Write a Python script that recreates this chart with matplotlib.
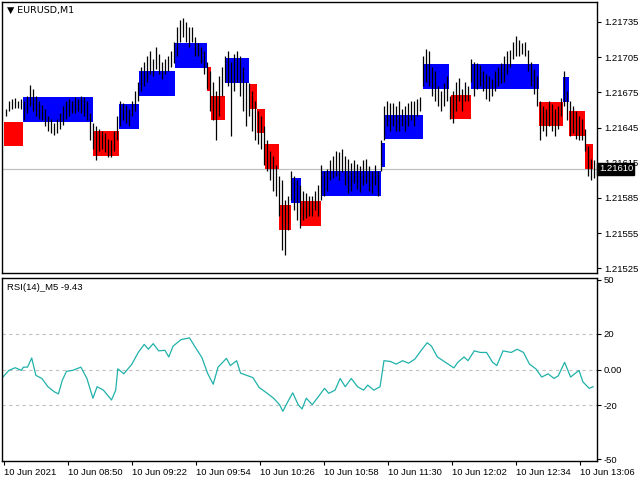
import matplotlib
matplotlib.use("Agg")
import matplotlib.pyplot as plt
import numpy as np

plt.rcParams["font.family"] = ["Liberation Sans", "DejaVu Sans"]

# price bars: high / low in points above 1.21500, one bar every index step
bar_hi = [161, 168, 169, 170, 168, 169, 168, 172, 181, 178, 172, 168, 164, 161, 155, 152, 149, 152, 157, 163,
          168, 169, 168, 171, 169, 172, 171, 168, 157, 149, 146, 144, 142, 140, 135, 134, 142, 155, 168, 166,
          164, 161, 168, 176, 184, 197, 201, 206, 210, 203, 214, 208, 201, 203, 206, 210, 218, 231, 237, 238,
          235, 231, 231, 222, 217, 214, 210, 201, 193, 184, 176, 189, 197, 206, 210, 201, 208, 210, 206, 197,
          184, 183, 176, 168, 159, 155, 146, 134, 125, 121, 113, 104, 100, 83, 87, 108, 104, 100, 96, 91,
          89, 87, 87, 91, 96, 113, 108, 110, 117, 121, 125, 124, 127, 121, 118, 115, 117, 114, 112, 117,
          118, 112, 108, 113, 108, 134, 163, 168, 166, 166, 163, 168, 161, 163, 166, 168, 168, 169, 171, 206,
          212, 210, 197, 193, 180, 176, 183, 189, 172, 176, 184, 187, 178, 184, 180, 203, 201, 200, 198, 193,
          191, 189, 186, 193, 197, 200, 206, 210, 211, 218, 223, 220, 217, 218, 211, 201, 195, 189, 168, 163,
          161, 168, 165, 161, 163, 170, 193, 176, 168, 163, 159, 155, 152, 144, 129, 118, 117]
bar_lo = [155, 159, 161, 162, 162, 161, 151, 157, 163, 159, 155, 152, 151, 146, 142, 140, 139, 140, 144, 147,
          152, 155, 157, 157, 159, 157, 155, 151, 134, 127, 117, 125, 127, 124, 120, 120, 125, 134, 146, 151,
          149, 146, 155, 159, 168, 176, 180, 184, 191, 189, 195, 191, 186, 191, 193, 197, 200, 206, 218, 222,
          218, 214, 218, 206, 206, 200, 191, 178, 159, 151, 134, 155, 172, 184, 180, 138, 176, 184, 172, 159,
          146, 155, 142, 134, 131, 127, 113, 108, 100, 91, 87, 70, 41, 36, 58, 83, 75, 66, 59, 66,
          68, 70, 70, 75, 70, 83, 87, 91, 100, 102, 104, 100, 107, 96, 89, 91, 98, 93, 90, 96,
          98, 91, 89, 96, 87, 108, 134, 146, 142, 146, 142, 142, 146, 142, 146, 151, 146, 155, 159, 180,
          184, 180, 172, 168, 163, 159, 163, 168, 152, 149, 159, 168, 159, 168, 168, 184, 172, 178, 180, 176,
          169, 168, 172, 176, 180, 183, 184, 191, 197, 203, 206, 206, 208, 206, 193, 180, 174, 163, 134, 142,
          138, 146, 142, 138, 144, 155, 163, 151, 138, 140, 135, 134, 134, 125, 104, 100, 102]

# boxes: start / end (bar index), low (points), colour
box_x0 = [-0.7, 5.7, 29, 37.7, 44.3, 56.3, 67, 68.3, 73, 81, 83.7, 86.3, 91, 95, 98.3,
          105, 125, 126.3, 139, 148.3, 155, 177.7, 185.7, 187.7, 193]
box_x1 = [5.7, 29, 37.7, 44.3, 56.3, 67, 68.3, 73, 81, 83.7, 86.3, 91, 95, 98.3, 105,
          125, 126.3, 139, 147.7, 155, 177.7, 185.7, 187.7, 193, 195.7]
box_lo = [129, 150, 121, 144, 172, 196, 176, 151, 183, 161, 140, 110, 58, 81, 61,
          87, 111, 135, 178, 152, 178, 146, 167, 138, 110]
box_up = [0, 1, 0, 1, 1, 1, 0, 0, 1, 0, 0, 0, 0, 1, 0,
          1, 1, 1, 1, 0, 1, 0, 1, 0, 0]
BOX_H = 21

# RSI (centred) samples: bar index, value
rsi_x = [-1, 1, 3.1, 5.2, 5.8, 7.2, 8.6, 10, 12, 14, 16.1, 17.5, 18.8, 20.2, 22.2, 25, 27, 29, 30.4, 32.5,
         35.2, 36.6, 37.3, 39.3, 42, 44.1, 46.1, 47.5, 49.1, 50.9, 53, 54.3, 55.7, 58.4, 61.2, 63.2, 65.3, 67.3,
         69.1, 70.7, 73.5, 74.8, 76.9, 78.2, 80.3, 82.3, 84.4, 87.1, 89.2, 91.2, 92.3, 94, 95.6, 97.4, 98.7,
         100.1, 102.1, 104.2, 106.2, 107.6, 109.7, 111.4, 113.1, 115.1, 117.2, 119.2, 120.6, 122.6, 124.7, 126,
         128.1, 130.1, 132.2, 134.2, 136.3, 138.3, 140.4, 141.8, 143.8, 146.5, 149.3, 150.6, 152.7, 154, 156.1,
         158.1, 160.2, 162.2, 163.6, 165.7, 168.4, 170.4, 172.5, 174.5, 176.6, 178.6, 180.7, 182.7, 184.1,
         186.2, 188.2, 191, 192.3, 194.4, 195.7]
rsi_v = [-4.2, -0.5, 1, -0.5, 1.3, 1.3, 6.4, -3.3, -5, -9.6, -12.4, -13.6, -6, -1, -0.5, 1.3, -5, -16, -9.6, -11.5,
         -17, -11.5, 0.4, -2.4, 3, 9.5, 14, 11.3, 14.4, 10.4, 10.7, 7, 13, 16.7, 17.6, 12.2, 6.7, -2.4,
         -8.2, 1.3, 6.2, 2.2, 4.9, -2, -3.3, -4.5, -10, -13.3, -16, -19.6, -23.3, -17.8, -13, -19.6, -22,
         -16, -19.6, -15, -10.5, -13.3, -11.5, -5, -9.6, -5, -9.6, -11.5, -8.7, -11.5, -9.6, 4.9,
         4.5, 3, 4.9, 3.5, 5.8, 10.4, 14.9, 13.1, 7, 4, 0.9, 4, 7, 4.9, 10.4,
         9.5, 9.5, 4, 2.2, 10.4, 9.5, 11.3, 9.5, 3, 0.4, -4.2, -2.4, -5, -3.5,
         4, -4.2, -0.5, -6.9, -10.5, -9.6]

price_ticks = [25, 55, 85, 115, 145, 175, 205, 235]
last_price = 110
time_ticks = [-0.7 + 21.33 * i for i in range(10)]
time_labels = ["10 Jun 2021", "10 Jun 08:50", "10 Jun 09:22", "10 Jun 09:54", "10 Jun 10:26",
               "10 Jun 10:58", "10 Jun 11:30", "10 Jun 12:02", "10 Jun 12:34", "10 Jun 13:06"]

W, H = 640, 480
FS = 6.8
fig = plt.figure(figsize=(6.4, 4.8), dpi=100)
ax = fig.add_axes([2 / W, 1 - 273 / H, 595 / W, 271 / H])
ax2 = fig.add_axes([2 / W, 1 - 461 / H, 595 / W, 183 / H])
XL = (-1.3, 197)

for x0, x1, lo, up in zip(box_x0, box_x1, box_lo, box_up):
    ax.bar(x0, BOX_H, width=x1 - x0, bottom=lo, align="edge",
           color="#0000ff" if up else "#ff0000", linewidth=0, zorder=1)
idx = np.arange(len(bar_hi))
ax.vlines(idx, bar_lo, bar_hi, color="black", linewidth=0.9, zorder=2)
ax.axhline(last_price, color="#c0c0c0", linewidth=0.9, zorder=0)
ax.set_xlim(*XL)
ax.set_ylim(21, 252)
ax.yaxis.tick_right()
ax.set_yticks(price_ticks)
ax.set_yticklabels(["{:.5f}".format(1.215 + v / 1e5) for v in price_ticks], fontsize=FS)
ax.set_xticks([])
ax.tick_params(axis="y", length=3, pad=2)
ax.text(1.003, (last_price - 21) / 231, "{:.5f}".format(1.215 + last_price / 1e5), transform=ax.transAxes,
        fontsize=FS, color="white", va="center", ha="left", zorder=5,
        bbox=dict(boxstyle="square,pad=0.15", fc="black", ec="black"))
ax.text(0.008, 0.985, "\u25BC EURUSD,M1", transform=ax.transAxes, fontsize=FS, va="top", ha="left",
        family=["DejaVu Sans"])

ax2.plot(rsi_x, rsi_v, color="#20b2aa", linewidth=0.9)
for lv in (20, 0, -20):
    ax2.axhline(lv, color="#c0c0c0", linestyle=(0, (3, 3)), linewidth=0.8, zorder=0)
ax2.set_xlim(*XL)
ax2.set_ylim(-51, 51)
ax2.yaxis.tick_right()
ax2.set_yticks([50, 20, 0, -20, -50])
ax2.set_yticklabels(["50", "20", "0.00", "-20", "-50"], fontsize=FS)
ax2.tick_params(axis="y", length=3, pad=2)
ax2.set_xticks(time_ticks)
ax2.set_xticklabels(time_labels, fontsize=FS, ha="left")
ax2.tick_params(axis="x", length=3, pad=2)
ax2.text(0.008, 0.975, "RSI(14)_M5 -9.43", transform=ax2.transAxes, fontsize=FS, va="top", ha="left")

for a in (ax, ax2):
    for s in a.spines.values():
        s.set_linewidth(1)

fig.savefig("out.png", dpi=100)
